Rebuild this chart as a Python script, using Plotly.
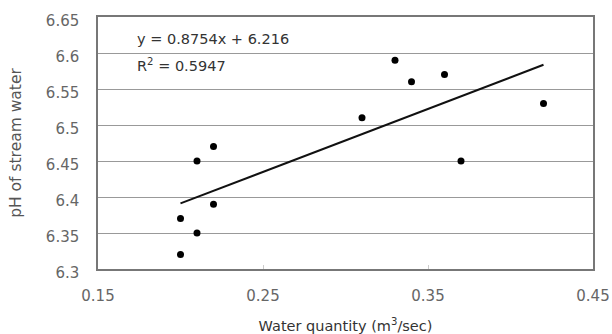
import plotly.graph_objects as go

water_quantity = [0.20, 0.20, 0.21, 0.21, 0.22, 0.22, 0.31, 0.33, 0.34, 0.36, 0.37, 0.42]
ph_values      = [6.37, 6.32, 6.45, 6.35, 6.47, 6.39, 6.51, 6.59, 6.56, 6.57, 6.45, 6.53]

trend_slope = 0.8754
trend_intercept = 6.216
x_ticks = [0.15, 0.25, 0.35, 0.45]
x_tick_labels = ["0.15", "0.25", "0.35", "0.45"]
y_ticks = [6.3, 6.35, 6.4, 6.45, 6.5, 6.55, 6.6, 6.65]
y_tick_labels = ["6.3", "6.35", "6.4", "6.45", "6.5", "6.55", "6.6", "6.65"]

tx = [min(water_quantity), max(water_quantity)]
ty = [trend_slope * v + trend_intercept for v in tx]

fig = go.Figure()
fig.add_trace(go.Scatter(x=tx, y=ty, mode="lines",
                         line=dict(color="#111111", width=2), hoverinfo="skip"))
fig.add_trace(go.Scatter(x=water_quantity, y=ph_values, mode="markers",
                         marker=dict(color="#000000", size=7)))

font = "DejaVu Sans, sans-serif"
fig.update_layout(
    width=612, height=334,
    margin=dict(l=98, r=19, t=17, b=65),
    paper_bgcolor="white", plot_bgcolor="white",
    showlegend=False,
    font=dict(family=font, size=12, color="#555555"),
    xaxis=dict(range=[0.15, 0.45], tickvals=x_ticks, ticktext=x_tick_labels,
               automargin=False,
               showgrid=False, zeroline=False, showline=True, linecolor="#777777",
               linewidth=1.5, mirror=True, ticks="inside", ticklen=4, tickcolor="#cccccc",
               ticklabelstandoff=12,
               tickfont=dict(size=15, color="#666666"),
               title=dict(text="Water quantity (m<sup>3</sup>/sec)", standoff=19,
                          font=dict(size=14.5, color="#333333"))),
    yaxis=dict(range=[6.3, 6.65], tickvals=y_ticks, ticktext=y_tick_labels,
               automargin=False,
               showgrid=True, gridcolor="#999999", gridwidth=1,
               zeroline=False, showline=True, linecolor="#777777", linewidth=1.5,
               mirror=True, ticks="", ticklabelstandoff=14, ticklabelshift=4,
               tickfont=dict(size=15, color="#666666"),
               title=dict(text="pH of stream water", standoff=20,
                          font=dict(size=15.5, color="#555555"))),
    annotations=[
        dict(x=0.1725, y=6.619, xref="x", yref="y", xanchor="left", yanchor="middle",
             showarrow=False, align="left",
             text="y = 0.8754x + 6.216",
             font=dict(size=14.5, color="#333333")),
        dict(x=0.1725, y=6.583, xref="x", yref="y", xanchor="left", yanchor="middle",
             showarrow=False, align="left",
             text="R<sup>2</sup> = 0.5947",
             font=dict(size=14.5, color="#333333")),
    ],
)
fig.write_html("out.html")
